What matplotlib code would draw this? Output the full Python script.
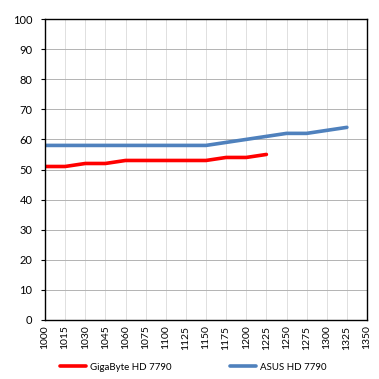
import matplotlib.pyplot as plt
import numpy as np

plt.rcParams['font.family'] = ['Lato', 'DejaVu Sans']

clocks = ['1000', '1015', '1030', '1045', '1060', '1075', '1100', '1125', '1150',
          '1175', '1200', '1225', '1250', '1275', '1300', '1325', '1350']
gigabyte = [51, 51, 52, 52, 53, 53, 53, 53, 53, 54, 54, 55]
asus = [58, 58, 58, 58, 58, 58, 58, 58, 58, 59, 60, 61, 62, 62, 63, 64]

fig = plt.figure(figsize=(3.79, 3.79), dpi=100)
ax = fig.add_axes([45/379, 1 - 320/379, 322/379, 301/379])

x = np.arange(len(clocks))
ax.plot(x[:len(gigabyte)], gigabyte, color='#ff0000', lw=2.6, label='GigaByte HD 7790',
        solid_capstyle='round')
ax.plot(x[:len(asus)], asus, color='#4f81bd', lw=2.6, label='ASUS HD 7790',
        solid_capstyle='round')

ax.set_xlim(0, len(clocks) - 1)
ax.set_ylim(0, 100)
ax.set_yticks(range(0, 101, 10))
ax.set_xticks(x)
ax.set_xticklabels(clocks, rotation=90, fontsize=7.5)
ax.tick_params(axis='y', labelsize=8, length=3, width=0.8, pad=6)
ax.tick_params(axis='x', length=0, pad=4)
ax.grid(axis='y', color='#b3b3b3', lw=0.7)
ax.grid(axis='x', color='#e0e0e0', lw=0.7)
ax.set_axisbelow(True)
for s in ax.spines.values():
    s.set_color('black')
    s.set_linewidth(1.0)

fig.legend(loc='center', bbox_to_anchor=(0.509, 1 - 367/379), ncol=2, frameon=False,
           fontsize=7, handlelength=2.7, handletextpad=0.4, columnspacing=6.0)

fig.savefig('out.png', dpi=100, facecolor='white')
